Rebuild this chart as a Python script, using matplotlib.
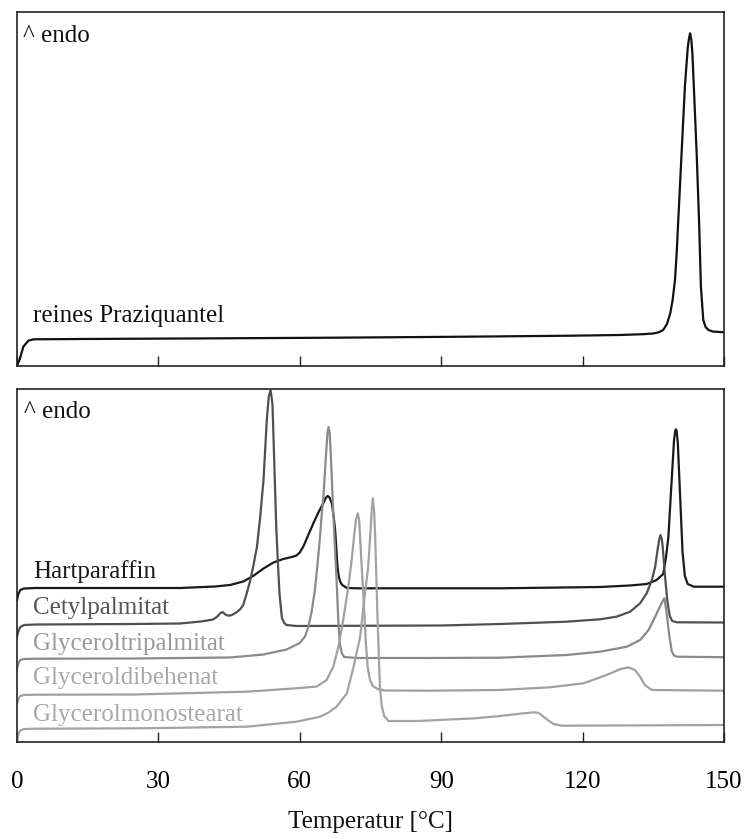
import matplotlib
matplotlib.use("Agg")
import matplotlib.pyplot as plt

plt.rcParams['font.family'] = ['Liberation Serif', 'DejaVu Serif']

# ---------------- data ----------------
x_ticks = [0, 30, 60, 90, 120, 150]

# top panel: reines Praziquantel (temperature in °C, heat flow in arbitrary units, endo up)
pzq_T = [0, 0.64, 1.34, 2.4, 3.5, 13.4, 40, 67, 95, 117.6, 127.9, 132.8, 135, 136.2, 137.1,
         137.9, 138.6, 139.1, 139.6, 139.95, 140.3, 141, 141.7, 142.3, 142.55, 142.8, 143.05,
         143.3, 143.6, 144.2, 144.7, 145.1, 145.6, 146.1, 146.7, 147.6, 150]
pzq_v = [0, 7.7, 19.3, 25.3, 26.7, 27, 27.6, 28.3, 29.3, 30.3, 31, 31.8, 32.5, 33.8, 36,
         42, 52.7, 66, 86, 112, 146, 212.7, 279.3, 318, 327, 332.7, 327,
         312, 279.3, 212.7, 146, 79.3, 46, 39, 36, 34.5, 33.7]

# bottom panel
hart_T = [0, 0.3, 0.7, 1.5, 4, 20, 34.6, 42, 45.2, 48, 50.1, 52.3, 54.4, 56.5, 58.3, 59.3,
          60, 60.8, 61.8, 62.9, 64, 65, 65.5, 65.9, 66.3, 66.8, 67.2, 67.5, 67.8, 68, 68.3,
          68.6, 69, 70, 72, 102.5, 123.7, 130, 133.6, 135.7, 137.1, 137.7, 138.2, 138.9,
          139.4, 139.65, 139.8, 139.95, 140.2, 140.7, 141.2, 141.7, 142.3, 143.6, 150]
hart_v = [142, 148, 152, 153.5, 154, 154, 154, 155.5, 157, 160.5, 166, 173.5, 179.5, 183, 185,
          186.5, 189.5, 196, 207, 219, 230, 239, 244, 246, 244.5, 238.7, 225, 212, 190, 175,
          165, 160, 157, 154, 153.7, 153.7, 155, 156.5, 158, 162, 168, 185, 205, 262,
          302, 311, 312.7, 311, 299, 245, 190, 166, 158, 155.3, 155.3]

cetyl_T = [0, 0.3, 0.7, 1.5, 4, 25, 34.6, 39, 41.6, 42.5, 43.1, 43.6, 44.2, 44.8, 45.5, 46.6,
           47.4, 48, 48.7, 49.4, 50.1, 50.9, 51.6, 52.3, 53, 53.4, 53.8, 54.2, 54.7, 55, 55.4,
           55.7, 56.2, 56.7, 57.2, 59.3, 90, 102.5, 116.6, 123.7, 127.2, 130.1, 132.2, 133.6,
           134.7, 135.4, 135.9, 136.2, 136.5, 136.8, 137, 137.5, 138, 138.5, 139, 140, 150]
cetyl_v = [105, 111, 115, 117, 117.5, 118, 118.5, 120.5, 122.5, 125.5, 128.7, 130, 127.5,
           126.3, 126.8, 129.7, 133, 137, 148, 160, 175, 195, 225, 262, 322, 345, 352, 338,
           262, 215, 175, 148, 124, 119, 117, 116, 116.5, 118, 120.3, 122.7, 125.3, 130.3,
           138.7, 148.7, 162, 175.3, 192, 201, 207, 203, 195, 165, 140, 126, 121, 119.7, 119.5]

tripal_T = [0, 0.3, 0.7, 1.5, 4, 25, 45.2, 52.3, 57.2, 60, 61.1, 61.8, 62.5, 63.2, 63.7, 64.2,
            64.6, 65, 65.6, 65.85, 66.1, 66.35, 66.6, 67.1, 67.5, 67.8, 68.2, 68.5, 68.9, 69.4,
            72, 87, 102.5, 116.6, 123.7, 129.4, 132.2, 134, 135.4, 136.4, 137.1, 137.35,
            137.8, 138.4, 138.9, 139.4, 140, 150]
tripal_v = [73, 79, 82, 83, 83.3, 83.5, 84.5, 87.5, 92.5, 99, 105.5, 115, 130, 152, 175, 200,
            225, 245, 290, 308, 315, 308, 285, 229, 190, 162, 118, 98, 89, 85,
            84, 84, 84.3, 87, 90.3, 95.3, 102, 112, 125.3, 135.3, 142, 143.7,
            130, 106, 91, 86.5, 85.3, 84.8]

dibeh_T = [0, 0.3, 0.7, 1.5, 4, 25, 48.7, 59.3, 63.6, 65.7, 67.1, 68.2, 69.2, 70.3, 71, 71.5,
           71.9, 72.3, 72.6, 72.9, 73.5, 74, 74.4, 74.9, 75.5, 76.5, 78, 87, 102.5, 113.1,
           120.2, 125.1, 127.9, 129.7, 131.1, 132.2, 133.2, 134.7, 150]
dibeh_v = [38, 43, 46, 47, 47.3, 47.5, 50.3, 53.7, 55.5, 62, 75.3, 95.3, 122, 155.3, 182, 205,
           222, 228.7, 222, 195, 145, 100, 75, 62, 56, 53, 51.5, 51.3, 52, 54.7,
           58.7, 67, 72.7, 74.7, 72, 65.3, 57, 52, 51.3]

mono_T = [0, 0.3, 0.7, 1.5, 4, 26.7, 48.7, 59.3, 64.3, 66.1, 67.8, 70, 71.4, 72.8, 73.5, 74.5,
          75, 75.25, 75.5, 75.75, 76, 76.5, 77, 77.4, 77.9, 78.8, 85, 97.2, 102.5, 107.5,
          109.5, 110.5, 111, 112.4, 113.8, 115.6, 150]
mono_v = [2, 8, 11.5, 13, 13.3, 13.7, 15.3, 20.3, 25.3, 29.5, 35.3, 48.7, 75, 105, 135, 175,
          210, 232, 243.7, 232, 205, 122, 55, 36, 26, 21, 21, 23.7, 26, 28.7,
          29.6, 29.3, 28, 22.7, 18, 16.3, 17]

bottom_series = [
    ("Hartparaffin", hart_T, hart_v, "#1a1a1a", "#1a1a1a", 164),
    ("Cetylpalmitat", cetyl_T, cetyl_v, "#505050", "#555555", 128),
    ("Glyceroltripalmitat", tripal_T, tripal_v, "#8a8a8a", "#9a9a9a", 92),
    ("Glyceroldibehenat", dibeh_T, dibeh_v, "#a0a0a0", "#a8a8a8", 58),
    ("Glycerolmonostearat", mono_T, mono_v, "#a3a3a3", "#a8a8a8", 20.5),
]

# ---------------- figure ----------------
W, H = 745, 839
fig = plt.figure(figsize=(W / 100, H / 100), dpi=100)

L, R = 17, 724
ax1 = fig.add_axes([L / W, 1 - 366 / H, (R - L) / W, 354 / H])
ax2 = fig.add_axes([L / W, 1 - 742 / H, (R - L) / W, 353 / H])

fs = 18

for ax in (ax1, ax2):
    ax.set_xlim(0, 150)
    ax.set_xticks(x_ticks)
    ax.set_yticks([])
    ax.tick_params(axis='x', direction='in', length=7, width=1, color='#222222')
    for s in ax.spines.values():
        s.set_linewidth(1.2)
        s.set_color('#222222')

ax1.set_ylim(0, 354)
ax2.set_ylim(0, 353)
ax1.tick_params(axis='x', labelbottom=False)
ax2.tick_params(axis='x', labelsize=fs, pad=21)

ax1.plot(pzq_T, pzq_v, color='#111111', lw=1.6, solid_joinstyle='round')
ax1.text(6 / 707, (366 - 42) / 354, "^ endo", transform=ax1.transAxes,
         fontsize=fs, va='baseline', ha='left', color='#111111')
ax1.text(16 / 707, (366 - 322) / 354, "reines Praziquantel", transform=ax1.transAxes,
         fontsize=fs, va='baseline', ha='left', color='#111111')

for name, T, v, lc, tc, ly in bottom_series:
    ax2.plot(T, v, color=lc, lw=1.6, solid_joinstyle='round')
    ax2.text(16 / 707, ly / 353, name, transform=ax2.transAxes,
             fontsize=fs, va='baseline', ha='left', color=tc)

ax2.text(7 / 707, (742 - 418) / 353, "^ endo", transform=ax2.transAxes,
         fontsize=fs, va='baseline', ha='left', color='#111111')

fig.text((L + R) / 2 / W, 1 - 822 / H, "Temperatur [°C]", fontsize=fs,
         ha='center', va='center', color='#111111')

fig.savefig("out.png", dpi=100)
